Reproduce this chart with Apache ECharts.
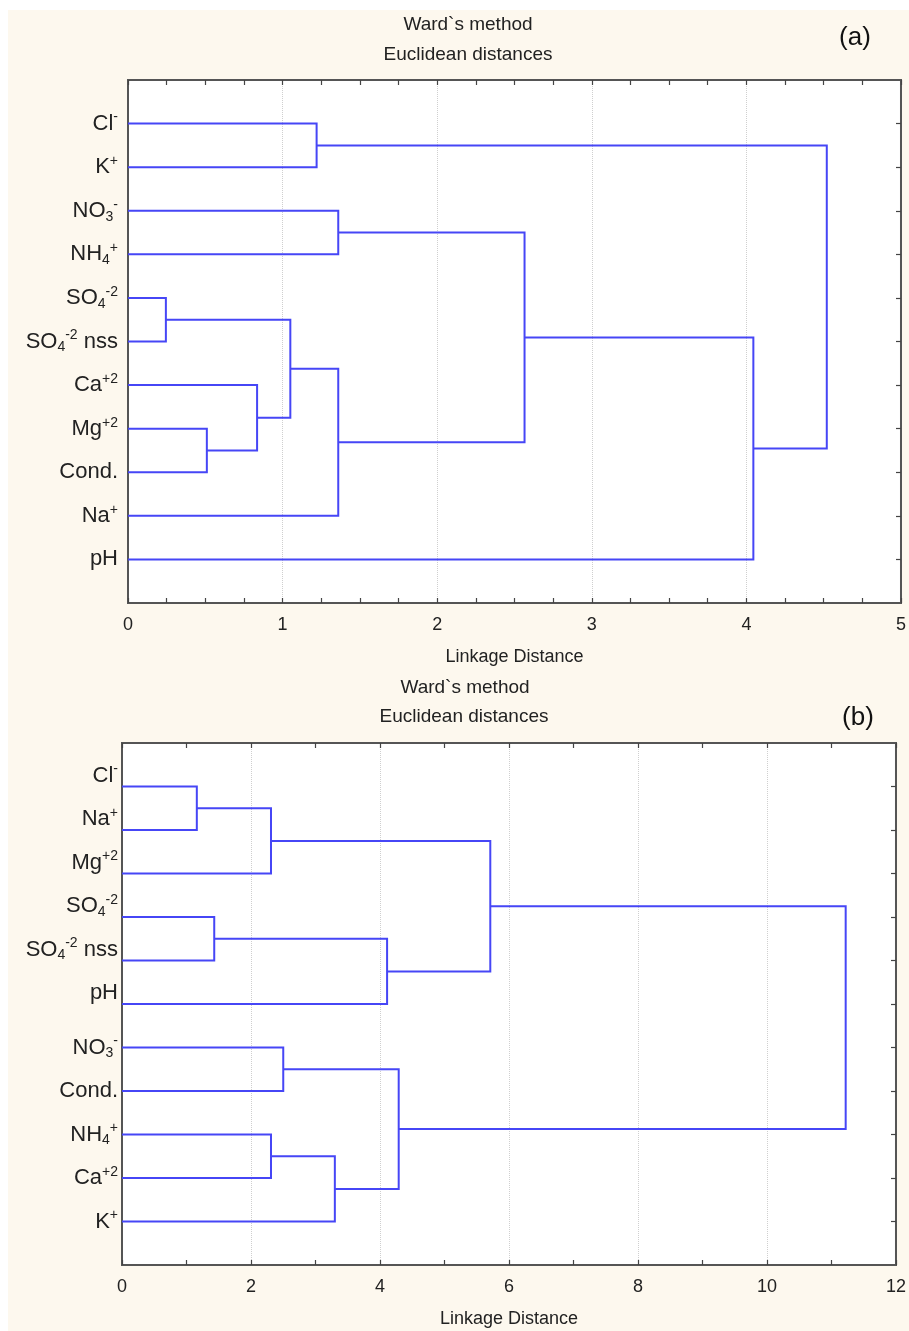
<!DOCTYPE html>
<html><head><meta charset="utf-8">
<script src="https://cdn.jsdelivr.net/npm/echarts@6/dist/echarts.min.js"></script>
<style>html,body{margin:0;padding:0;background:#fff}#c{width:909px;height:1331px}</style>
</head><body><div id="c"></div>
<script>
// ---------- Panel (a) ----------
const leavesA = ['Cl{sp|-}','K{sp|+}','NO{sb|3}{sp|-}','NH{sb|4}{sp|+}','SO{sb|4}{sp|-2}','SO{sb|4}{sp|-2} nss','Ca{sp|+2}','Mg{sp|+2}','Cond.','Na{sp|+}','pH'];
// merges (ids < 11 are leaves, 11+k is k-th merge)
const mergeLeftA   = [4, 7, 6, 11, 0, 2, 14, 16, 18, 15];
const mergeRightA  = [5, 8, 12, 13, 1, 3, 9, 17, 10, 19];
const mergeHeightA = [0.245, 0.51, 0.835, 1.05, 1.22, 1.36, 1.36, 2.565, 4.045, 4.52];
const xTicksA = [0, 1, 2, 3, 4, 5];

// ---------- Panel (b) ----------
const leavesB = ['Cl{sp|-}','Na{sp|+}','Mg{sp|+2}','SO{sb|4}{sp|-2}','SO{sb|4}{sp|-2} nss','pH','NO{sb|3}{sp|-}','Cond.','NH{sb|4}{sp|+}','Ca{sp|+2}','K{sp|+}'];
const mergeLeftB   = [0, 11, 8, 3, 6, 13, 14, 15, 12, 19];
const mergeRightB  = [1, 2, 9, 4, 7, 10, 5, 16, 17, 18];
const mergeHeightB = [1.16, 2.31, 2.31, 1.43, 2.50, 3.30, 4.11, 4.29, 5.71, 11.22];
const xTicksB = [0, 2, 4, 6, 8, 10, 12];

const titleLines = ['Ward`s method', 'Euclidean distances'];
const xAxisName = 'Linkage Distance';

const FONT = '"Liberation Sans", Arial, sans-serif';
const LINE = '#4646f6';
const TXT = '#222';

function buildLinks(n, L, R, H) {
  const pos = [];
  for (let i = 0; i < n; i++) pos.push([0, i + 1]);
  const rows = [];
  for (let k = 0; k < H.length; k++) {
    const a = pos[L[k]], b = pos[R[k]];
    rows.push([a[0], a[1], H[k], b[1], b[0]]);
    pos.push([H[k], (a[1] + b[1]) / 2]);
  }
  return rows;
}
const linksA = buildLinks(leavesA.length, mergeLeftA, mergeRightA, mergeHeightA);
const linksB = buildLinks(leavesB.length, mergeLeftB, mergeRightB, mergeHeightB);

function renderLink(params, api) {
  const p1 = api.coord([api.value(0), api.value(1)]);
  const p2 = api.coord([api.value(2), api.value(1)]);
  const p3 = api.coord([api.value(2), api.value(3)]);
  const p4 = api.coord([api.value(4), api.value(3)]);
  return { type: 'polyline', shape: { points: [p1, p2, p3, p4] },
           style: { stroke: LINE, lineWidth: 2, fill: null } };
}

const rich = {
  sp: { fontSize: 14, fontFamily: FONT, color: TXT, verticalAlign: 'top', lineHeight: 14 },
  sb: { fontSize: 14, fontFamily: FONT, color: TXT, verticalAlign: 'bottom', lineHeight: 14 }
};
const range = (a, b) => { const r = []; for (let i = a; i <= b; i++) r.push(i); return r; };

function xAxes(g, ticks, minorSplit) {
  const min = ticks[0], max = ticks[ticks.length - 1], interval = ticks[1] - ticks[0];
  const mk = () => ({
    gridIndex: g, type: 'value', min, max, interval,
    axisLine: { show: true, onZero: false, lineStyle: { color: '#555', width: 2 } },
    axisTick: { show: true, inside: true, length: 5, lineStyle: { color: '#444', width: 1.2 } },
    minorTick: { show: true, splitNumber: minorSplit, length: 5, lineStyle: { color: '#444', width: 1.2 } }
  });
  return [
    Object.assign(mk(), {
      position: 'bottom',
      splitLine: { show: true, lineStyle: { color: '#cfcfcf', type: 'dotted', width: 1 } },
      axisLabel: { fontSize: 18, color: TXT, margin: 13, fontFamily: FONT, showMinLabel: true, showMaxLabel: true },
      name: xAxisName, nameLocation: 'middle', nameGap: 45,
      nameTextStyle: { fontSize: 18, color: TXT, fontFamily: FONT }
    }),
    Object.assign(mk(), {
      position: 'top', splitLine: { show: false }, axisLabel: { show: false }
    })
  ];
}

// shift: label-only axis scale offset (in leaf units) used to lift a group of labels
function leftAxis(g, labels, values, margin, lineShown, shift) {
  const ax = {
    gridIndex: g, type: 'value', inverse: true, min: shift, max: 12 + shift, position: 'left',
    axisLine: { show: lineShown, onZero: false, lineStyle: { color: '#555', width: 2 } },
    axisTick: { show: false }, splitLine: { show: false },
    axisLabel: { customValues: values, formatter: v => labels[Math.round(v) - 1] || '',
                 fontSize: 22, color: TXT, fontFamily: FONT, margin: margin, lineHeight: 26,
                 rich: rich, showMinLabel: true, showMaxLabel: true, hideOverlap: false }
  };
  if (shift === 0) ax.interval = 1;
  return ax;
}
function rightAxis(g) {
  return {
    gridIndex: g, type: 'value', inverse: true, min: 0, max: 12, interval: 1, position: 'right',
    axisLine: { show: true, onZero: false, lineStyle: { color: '#555', width: 2 } },
    axisTick: { show: true, inside: true, length: 5, customValues: range(1, 11), lineStyle: { color: '#444', width: 1.2 } },
    axisLabel: { show: false }, splitLine: { show: false }
  };
}

const chart = echarts.init(document.getElementById('c'), null, { renderer: 'canvas' });
const option = {
  backgroundColor: '#fdf8ee',
  animation: false,
  grid: [
    { left: 128, top: 80, width: 774, height: 523, show: true, backgroundColor: '#fff', borderColor: '#555', borderWidth: 2 },
    { left: 122, top: 743, width: 774, height: 522, show: true, backgroundColor: '#fff', borderColor: '#555', borderWidth: 2 }
  ],
  xAxis: [].concat(xAxes(0, xTicksA, 4), xAxes(1, xTicksB, 2)),
  yAxis: [
    leftAxis(0, leavesA, range(1, 11), 10, true, 0),
    rightAxis(0),
    leftAxis(1, leavesB, range(7, 11), 4, true, 0),
    leftAxis(1, leavesB, range(1, 6), 4, false, 0.25),
    rightAxis(1)
  ],
  series: [
    { type: 'custom', coordinateSystem: 'cartesian2d', xAxisIndex: 0, yAxisIndex: 0,
      renderItem: renderLink, data: linksA, encode: { x: [0, 2, 4], y: [1, 3] }, clip: false },
    { type: 'custom', coordinateSystem: 'cartesian2d', xAxisIndex: 2, yAxisIndex: 2,
      renderItem: renderLink, data: linksB, encode: { x: [0, 2, 4], y: [1, 3] }, clip: false }
  ],
  graphic: [
    { type: 'rect', shape: { x: 0, y: 0, width: 909, height: 10 }, style: { fill: '#fff' }, z: -1 },
    { type: 'rect', shape: { x: 0, y: 0, width: 8, height: 1331 }, style: { fill: '#fff' }, z: -1 },
    { type: 'text', x: 468, y: 25, style: { text: titleLines[0], font: '19px ' + FONT, fill: TXT, textAlign: 'center', textVerticalAlign: 'middle' } },
    { type: 'text', x: 468, y: 55, style: { text: titleLines[1], font: '19px ' + FONT, fill: TXT, textAlign: 'center', textVerticalAlign: 'middle' } },
    { type: 'text', x: 855, y: 38, style: { text: '(a)', font: '26px ' + FONT, fill: '#111', textAlign: 'center', textVerticalAlign: 'middle' } },
    { type: 'text', x: 465, y: 688, style: { text: titleLines[0], font: '19px ' + FONT, fill: TXT, textAlign: 'center', textVerticalAlign: 'middle' } },
    { type: 'text', x: 464, y: 717, style: { text: titleLines[1], font: '19px ' + FONT, fill: TXT, textAlign: 'center', textVerticalAlign: 'middle' } },
    { type: 'text', x: 858, y: 718, style: { text: '(b)', font: '26px ' + FONT, fill: '#111', textAlign: 'center', textVerticalAlign: 'middle' } }
  ]
};
chart.setOption(option);
</script>
</body></html>
